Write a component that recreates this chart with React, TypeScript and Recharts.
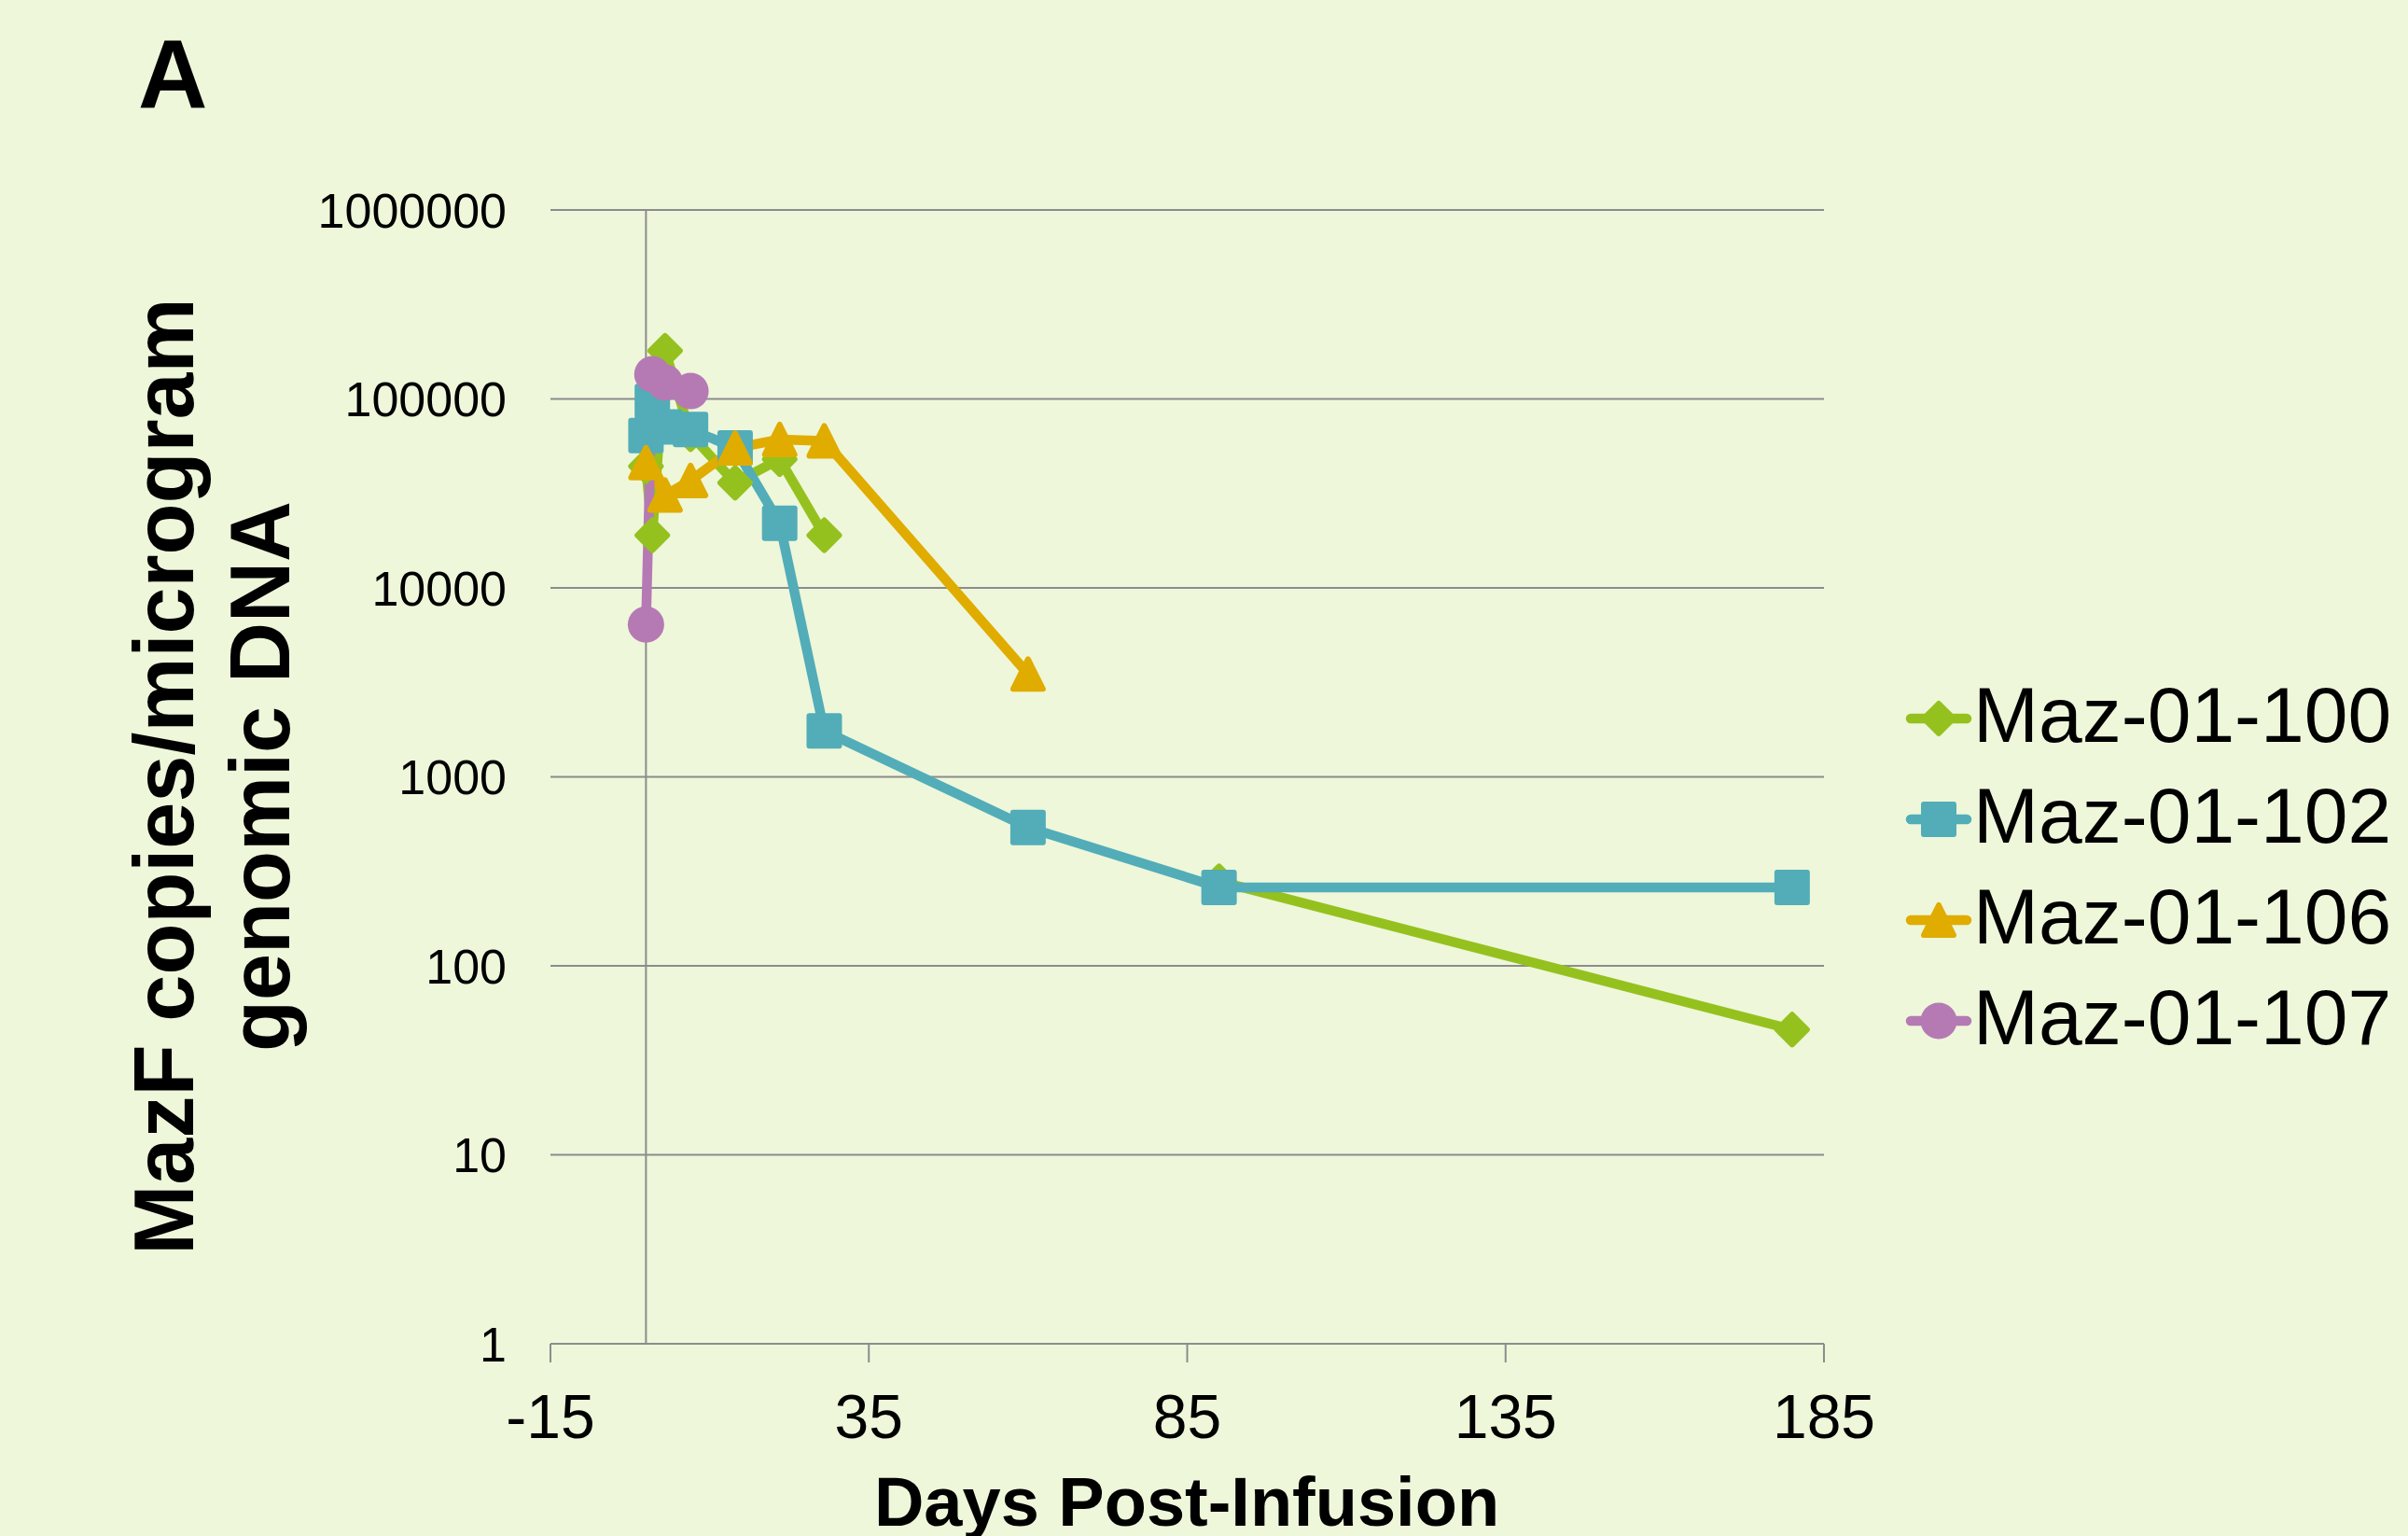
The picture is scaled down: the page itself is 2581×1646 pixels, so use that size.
import React from 'react';
import { LineChart, Line, XAxis, YAxis, CartesianGrid, ReferenceLine, Legend } from 'recharts';

const FONT = '"Liberation Sans", Arial, Helvetica, sans-serif';
const BG = '#EEF7DA';
const GRID = '#8c8c8c';

const seriesNames = ['Maz-01-100', 'Maz-01-102', 'Maz-01-106', 'Maz-01-107'];
const seriesColors = ['#95C11F', '#52ADB8', '#E0AC00', '#B57AB4'];
const seriesShapes = ['diamond', 'square', 'triangle', 'circle'];

// null = missing sample (line is broken there)
const days100 = [0, 1, 3, 7, 14, 21, 28, 60, 90, 180];
const vals100 = [44000, 19000, 180000, 65000, 36000, 48000, 19000, null, 280, 46];
const days102 = [0, 1, 3, 7, 14, 21, 28, 60, 90, 180];
const vals102 = [64000, 97000, 71000, 69000, 55000, 22000, 1750, 540, 260, 260];
const days106 = [0, 3, 7, 14, 21, 28, 60];
const vals106 = [46000, 31000, 37000, 55000, 61000, 60000, 3500];
const days107 = [0, 1, 3, 7];
const vals107 = [6400, 135000, 122000, 110000];

const xTicks = [-15, 35, 85, 135, 185];
const yTicks = [1, 10, 100, 1000, 10000, 100000, 1000000];

const zip = (d: number[], v: (number | null)[]) => d.map((day, i) => ({ day, value: v[i] }));
const seriesData = [zip(days100, vals100), zip(days102, vals102), zip(days106, vals106), zip(days107, vals107)];

function Marker({ shape, cx, cy, color }: { shape: string; cx: number; cy: number; color: string }) {
  const s = 16;
  const common = { fill: color, stroke: color, strokeWidth: 6, strokeLinejoin: 'round' as const };
  if (shape === 'diamond') {
    return <polygon points={`${cx},${cy - s} ${cx + s},${cy} ${cx},${cy + s} ${cx - s},${cy}`} {...common} />;
  }
  if (shape === 'square') {
    return <rect x={cx - s} y={cy - s} width={2 * s} height={2 * s} {...common} />;
  }
  if (shape === 'triangle') {
    return <polygon points={`${cx},${cy - s} ${cx + s},${cy + s} ${cx - s},${cy + s}`} {...common} />;
  }
  return <circle cx={cx} cy={cy} r={19.5} fill={color} />;
}

const YTick = (p: any) => (
  <text x={p.x} y={p.y} dy={18.6} textAnchor="end" fontSize={52} fontFamily={FONT} fill="#000">
    {p.payload.value}
  </text>
);

const XTick = (p: any) => (
  <text x={p.x} y={p.y} dy={81} textAnchor="middle" fontSize={66} fontFamily={FONT} fill="#000">
    {p.payload.value}
  </text>
);

const LegendContent = () => (
  <svg width={540} height={440} style={{ display: 'block' }}>
    {seriesNames.map((name, i) => {
      const cy = 54 + 108 * i;
      return (
        <g key={name}>
          <line x1={8} y1={cy} x2={68} y2={cy} stroke={seriesColors[i]} strokeWidth={10.5} strokeLinecap="round" />
          <Marker shape={seriesShapes[i]} cx={38} cy={cy} color={seriesColors[i]} />
          <text x={75} y={cy + 25} fontSize={84} fontFamily={FONT} fill="#000">
            {name}
          </text>
        </g>
      );
    })}
  </svg>
);

export default function App() {
  return (
    <div style={{ position: 'absolute', left: 0, top: 0, width: 2581, height: 1646, background: BG, overflow: 'hidden' }}>
      <div style={{ position: 'absolute', left: 0, top: 0 }}>
        <LineChart width={2581} height={1646} margin={{ top: 225, right: 626, bottom: 106, left: 0 }}>
          <CartesianGrid vertical={false} stroke={GRID} strokeWidth={2} />
          <XAxis
            type="number"
            dataKey="day"
            domain={[-15, 185]}
            ticks={xTicks}
            allowDataOverflow
            height={100}
            tickSize={20}
            tickMargin={0}
            axisLine={{ stroke: GRID, strokeWidth: 2 }}
            tickLine={{ stroke: GRID, strokeWidth: 2 }}
            tick={<XTick />}
            interval={0}
          />
          <YAxis
            type="number"
            dataKey="value"
            scale="log"
            domain={[1, 1000000]}
            ticks={yTicks}
            allowDataOverflow
            width={590}
            tickSize={0}
            tickMargin={47}
            axisLine={false}
            tickLine={false}
            tick={<YTick />}
            interval={0}
          />
          <ReferenceLine x={0} stroke={GRID} strokeWidth={2} />
          {seriesNames.map((name, i) => (
            <Line
              key={name}
              name={name}
              data={seriesData[i]}
              dataKey="value"
              type="linear"
              stroke={seriesColors[i]}
              strokeWidth={10.5}
              strokeLinejoin="round"
              strokeLinecap="round"
              connectNulls={false}
              isAnimationActive={false}
              dot={(p: any) =>
                p.value == null || p.cy == null ? (
                  <g key={`${name}-${p.index}`} />
                ) : (
                  <Marker key={`${name}-${p.index}`} shape={seriesShapes[i]} cx={p.cx} cy={p.cy} color={seriesColors[i]} />
                )
              }
              activeDot={false}
            />
          ))}
          <Legend
            layout="horizontal"
            verticalAlign="middle"
            align="center"
            content={<LegendContent />}
            wrapperStyle={{ position: 'absolute', left: 2040, top: 716, width: 540, height: 440 }}
          />
        </LineChart>
      </div>
      <svg width={2581} height={1646} style={{ position: 'absolute', left: 0, top: 0, pointerEvents: 'none' }}>
        <text x={148} y={115} fontSize={103} fontWeight="bold" fontFamily={FONT} fill="#000">
          A
        </text>
        <text x={207} y={832} transform="rotate(-90 207 832)" textAnchor="middle" fontSize={90} fontWeight="bold" fontFamily={FONT} fill="#000">
          MazF copies/microgram
        </text>
        <text x={310} y={832} transform="rotate(-90 310 832)" textAnchor="middle" fontSize={90} fontWeight="bold" fontFamily={FONT} fill="#000">
          genomic DNA
        </text>
        <text x={1272} y={1635} textAnchor="middle" fontSize={74} fontWeight="bold" fontFamily={FONT} fill="#000">
          Days Post-Infusion
        </text>
      </svg>
    </div>
  );
}
